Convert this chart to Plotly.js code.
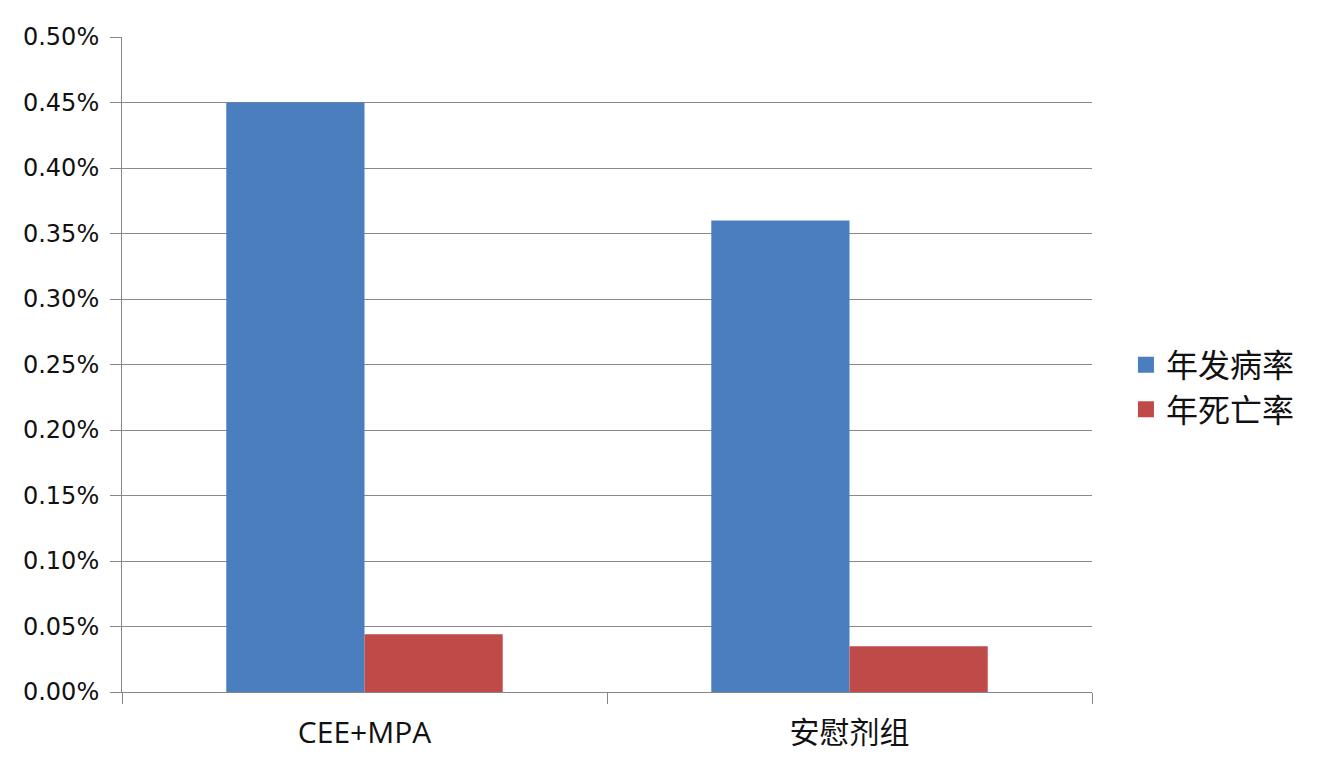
<!DOCTYPE html>
<html>
<head>
<meta charset="utf-8">
<script src="https://cdn.plot.ly/plotly-3.0.1.min.js"></script>
<style>html,body{margin:0;padding:0;background:#fff;}#chart{width:1322px;height:774px;}</style>
</head>
<body>
<div id="chart"></div>
<script>
const categories = ["CEE+MPA", "安慰剂组"];
const seriesNames = ["年发病率", "年死亡率"];
const incidence = [0.0045, 0.0036];
const mortality = [0.00044, 0.00035];
const colors = ["#4A7EBF", "#BE4B48"];

const cjk = "'Open Sans', 'Noto Sans CJK SC', sans-serif";
const traces = [
  {type: "bar", x: categories, y: incidence, name: seriesNames[0], marker: {color: colors[0]}, showlegend: false},
  {type: "bar", x: categories, y: mortality, name: seriesNames[1], marker: {color: colors[1]}, showlegend: false},
  {type: "scatter", mode: "markers", x: [null], y: [null], name: seriesNames[0], marker: {symbol: "square", size: 20, color: colors[0]}},
  {type: "scatter", mode: "markers", x: [null], y: [null], name: seriesNames[1], marker: {symbol: "square", size: 20, color: colors[1]}}
];
const layout = {
  width: 1322, height: 774,
  margin: {l: 122, r: 230, t: 37, b: 82},
  paper_bgcolor: "#ffffff", plot_bgcolor: "#ffffff",
  barmode: "group", bargap: 0.43, bargroupgap: 0,
  font: {family: cjk, color: "#111"},
  xaxis: {
    type: "category", range: [-0.5, 1.5],
    showline: true, linecolor: "#868686", linewidth: 1,
    ticks: "outside", tickson: "boundaries", ticklen: 11, tickcolor: "#868686",
    tickfont: {family: cjk, size: 30, color: "#111"},
    ticklabelstandoff: 14,
    showgrid: false
  },
  yaxis: {
    range: [0, 0.005], dtick: 0.0005, tick0: 0, tickformat: ".2%",
    showline: true, linecolor: "#868686", linewidth: 1,
    ticks: "outside", ticklen: 11, tickcolor: "#868686",
    gridcolor: "#8a8a8a", gridwidth: 1,
    tickfont: {family: "'DejaVu Sans', sans-serif", size: 24, color: "#111"},
    ticklabelstandoff: 6,
    zeroline: false
  },
  legend: {
    x: 1.035, xanchor: "left", y: 0.465, yanchor: "middle",
    font: {family: cjk, size: 32, color: "#111"},
    itemwidth: 30, bgcolor: "rgba(0,0,0,0)"
  }
};
Plotly.newPlot("chart", traces, layout, {displayModeBar: false});
</script>
</body>
</html>
